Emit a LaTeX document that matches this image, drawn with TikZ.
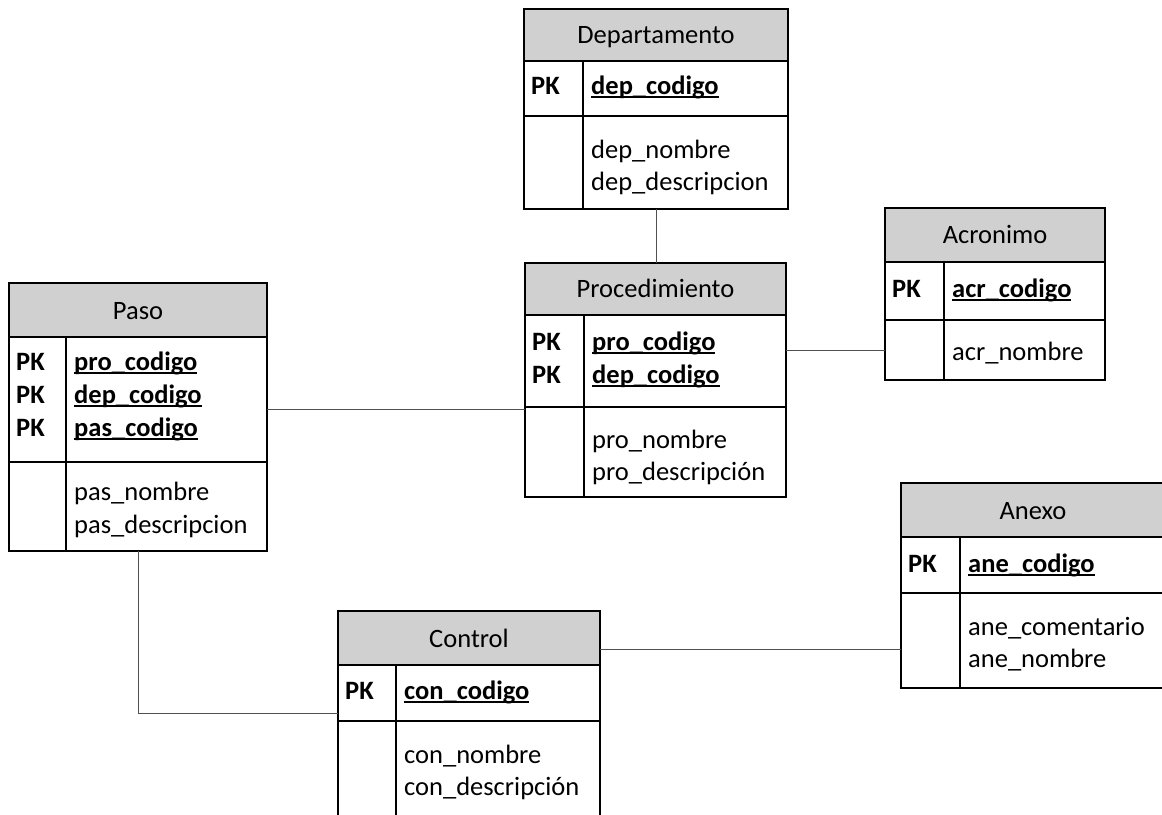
\documentclass[tikz,border=0pt]{standalone}
\usepackage{fontspec}
\setmainfont{Carlito}
\definecolor{hdrgray}{RGB}{208,208,208}
\definecolor{linkgray}{RGB}{80,80,80}

\newsavebox\keybox
% bold key name with a low underline through the underscore level
\newcommand\ukey[1]{\sbox\keybox{\bfseries #1}\rlap{\vrule height -2.2pt depth 3.8pt width \wd\keybox}\usebox\keybox}

% entity table: name, left, top, right, bottom, header bottom, key rows bottom, column divider
\newcommand\ertable[8]{%
  \fill[hdrgray] (#2,#3) rectangle (#4,#6);
  \draw[frame] (#2,#6) -- (#4,#6) (#2,#7) -- (#4,#7) (#8,#6) -- (#8,#5);
  \pgfmathsetmacro\erw{#4-#2}%
  \pgfmathsetmacro\erh{#5-#3}%
  \node[frame, draw, inner sep=0pt, outer sep=0pt, minimum width=\erw pt, minimum height=\erh pt]
    (#1) at ({(#2+#4)/2},{(#3+#5)/2}) {};
}

\begin{document}
\begin{tikzpicture}[x=1pt, y=-1pt,
  frame/.style={line width=1.8pt, black},
  link/.style={line width=1pt, linkgray},
  ttl/.style={anchor=base, inner sep=0pt, font=\fontsize{26.5}{31}\selectfont},
  pkl/.style={anchor=base west, inner sep=0pt, font=\fontsize{26.5}{31}\selectfont\bfseries},
  fld/.style={anchor=base west, inner sep=0pt, font=\fontsize{26.5}{31}\selectfont}]

\fill[white] (0,0) rectangle (1162,814);
\useasboundingbox (0,0) rectangle (1162,814);
\clip (0,0) rectangle (1162,814);

% tables
\ertable{dep}{524}{9}{788}{209}{61}{116}{583}
\ertable{pro}{525}{263}{786}{497}{315}{407}{584}
\ertable{acr}{885}{208}{1105}{380}{262}{320}{944}
\ertable{paso}{9}{283}{267}{551}{337}{462}{66}
\ertable{ctl}{338}{611}{600}{840}{665}{721}{396}
\ertable{anx}{901}{483}{1166}{688}{537}{593}{960}

% Departamento
\node[ttl] (dep-t) at (656,43) {Departamento};
\node[pkl] (dep-p1) at (531,94) {PK};
\node[fld] (dep-k1) at (591,94) {\ukey{dep\_codigo}};
\node[fld] (dep-a1) at (591,158) {dep\_nombre};
\node[fld] (dep-a2) at (591,190) {dep\_descripcion};

% Procedimiento
\node[ttl] (pro-t) at (655.5,297) {Procedimiento};
\node[pkl] (pro-p1) at (532,350) {PK};
\node[pkl] (pro-p2) at (532,383) {PK};
\node[fld] (pro-k1) at (592,350) {\ukey{pro\_codigo}};
\node[fld] (pro-k2) at (592,383) {\ukey{dep\_codigo}};
\node[fld] (pro-a1) at (592,448) {pro\_nombre};
\node[fld] (pro-a2) at (592,480) {pro\_descripción};

% Acronimo
\node[ttl] (acr-t) at (995,243) {Acronimo};
\node[pkl] (acr-p1) at (892,297) {PK};
\node[fld] (acr-k1) at (952,297) {\ukey{acr\_codigo}};
\node[fld] (acr-a1) at (952,360) {acr\_nombre};

% Paso
\node[ttl] (paso-t) at (138,319) {Paso};
\node[pkl] (paso-p1) at (16,370) {PK};
\node[pkl] (paso-p2) at (16,403) {PK};
\node[pkl] (paso-p3) at (16,436) {PK};
\node[fld] (paso-k1) at (74,370) {\ukey{pro\_codigo}};
\node[fld] (paso-k2) at (74,403) {\ukey{dep\_codigo}};
\node[fld] (paso-k3) at (74,436) {\ukey{pas\_codigo}};
\node[fld] (paso-a1) at (74,500) {pas\_nombre};
\node[fld] (paso-a2) at (74,533) {pas\_descripcion};

% Control
\node[ttl] (ctl-t) at (469,647) {Control};
\node[pkl] (ctl-p1) at (345,699) {PK};
\node[fld] (ctl-k1) at (404,699) {\ukey{con\_codigo}};
\node[fld] (ctl-a1) at (404,763) {con\_nombre};
\node[fld] (ctl-a2) at (404,795) {con\_descripción};

% Anexo
\node[ttl] (anx-t) at (1033,519) {Anexo};
\node[pkl] (anx-p1) at (908,572) {PK};
\node[fld] (anx-k1) at (968,572) {\ukey{ane\_codigo}};
\node[fld] (anx-a1) at (968,635) {ane\_comentario};
\node[fld] (anx-a2) at (968,667) {ane\_nombre};

% relationships
\draw[link] (dep.south) -- (dep.south |- pro.north);
\draw[link] ([yshift=-87pt]pro.north east) coordinate (pa) -- (pa -| acr.west);
\draw[link] ([yshift=88pt]pro.south west) coordinate (pp) -- (pp -| paso.east);
\draw[link] (paso.south) |- ([yshift=-102pt]ctl.north west);
\draw[link] ([yshift=-38pt]ctl.north east) coordinate (ca) -- (ca -| anx.west);
\end{tikzpicture}
\end{document}
